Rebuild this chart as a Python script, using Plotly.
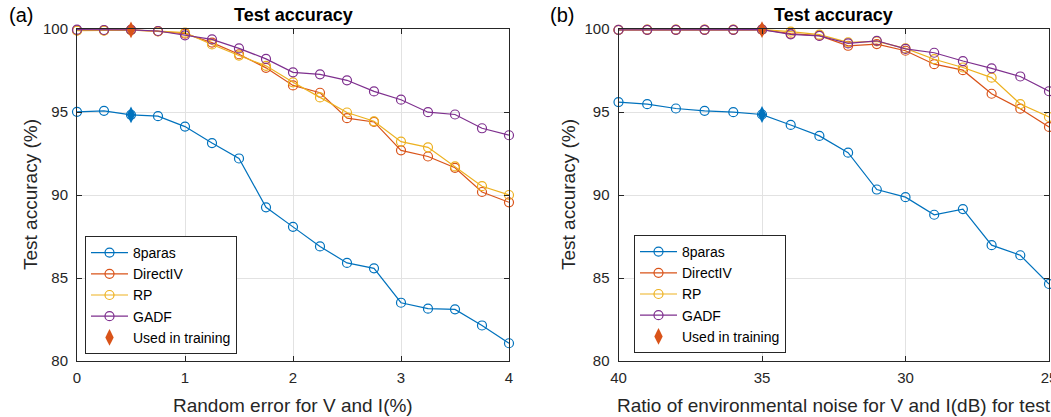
import plotly.graph_objects as go

# ---------------- data ----------------
series_names = ["8paras", "DirectIV", "RP", "GADF"]

err_x = [0, 0.25, 0.5, 0.75, 1, 1.25, 1.5, 1.75, 2, 2.25, 2.5, 2.75, 3, 3.25, 3.5, 3.75, 4]
acc_a_8paras = [95.01, 95.07, 94.83, 94.75, 94.12, 93.13, 92.2, 89.26, 88.08, 86.9, 85.91, 85.58, 83.51, 83.15, 83.11, 82.14, 81.07]
acc_a_direct = [99.92, 99.92, 99.95, 99.86, 99.72, 99.18, 98.48, 97.66, 96.6, 96.16, 94.63, 94.4, 92.69, 92.32, 91.64, 90.18, 89.56]
acc_a_rp = [99.9, 99.9, 99.93, 99.87, 99.78, 99.07, 98.4, 97.78, 96.79, 95.88, 94.97, 94.44, 93.21, 92.87, 91.72, 90.53, 90.0]
acc_a_gadf = [99.96, 99.94, 99.95, 99.88, 99.62, 99.37, 98.83, 98.2, 97.39, 97.27, 96.91, 96.24, 95.74, 94.99, 94.85, 94.02, 93.6]
train_a_x = 0.5

snr_x = [40, 39, 38, 37, 36, 35, 34, 33, 32, 31, 30, 29, 28, 27, 26, 25]
acc_b_8paras = [95.6, 95.47, 95.21, 95.07, 94.99, 94.85, 94.22, 93.56, 92.55, 90.33, 89.87, 88.81, 89.15, 86.98, 86.37, 84.64]
acc_b_direct = [99.94, 99.95, 99.95, 99.95, 99.95, 99.96, 99.72, 99.6, 98.99, 99.09, 98.69, 97.88, 97.52, 96.1, 95.2, 94.1]
acc_b_rp = [99.95, 99.96, 99.96, 99.96, 99.96, 99.96, 99.84, 99.66, 99.19, 99.25, 98.83, 98.18, 97.68, 97.07, 95.48, 94.7]
acc_b_gadf = [99.95, 99.95, 99.95, 99.95, 99.95, 99.96, 99.68, 99.58, 99.13, 99.29, 98.8, 98.57, 98.07, 97.63, 97.14, 96.25]
train_b_x = 35

x_ticks_a = [0, 1, 2, 3, 4]
x_ticks_b = [40, 35, 30, 25]
y_ticks = [80, 85, 90, 95, 100]

colors = ["#0072BD", "#D95319", "#EDB120", "#7E2F8E"]
FONT = "Liberation Sans, Arial, sans-serif"
AX = "#262626"
W, H = 1051, 417

fig = go.Figure()

panels = [
    ("x", "y", "legend", err_x, [acc_a_8paras, acc_a_direct, acc_a_rp, acc_a_gadf], train_a_x),
    ("x2", "y2", "legend2", snr_x, [acc_b_8paras, acc_b_direct, acc_b_rp, acc_b_gadf], train_b_x),
]

for xa, ya, lg, xs, ys_list, tx in panels:
    for name, ys, col in zip(series_names, ys_list, colors):
        fig.add_trace(go.Scatter(
            x=xs, y=ys, name=name, mode="lines+markers",
            line=dict(color=col, width=1.2),
            marker=dict(symbol="circle-open", size=9, color=col, line=dict(width=1.2)),
            cliponaxis=False, xaxis=xa, yaxis=ya, legend=lg,
        ))
    idx = xs.index(tx)
    fig.add_trace(go.Scatter(
        x=[tx], y=[ys_list[0][idx]], mode="markers", showlegend=False,
        marker=dict(symbol="diamond-tall", size=12, color=colors[0]),
        cliponaxis=False, xaxis=xa, yaxis=ya, legend=lg,
    ))
    fig.add_trace(go.Scatter(
        x=[tx], y=[ys_list[1][idx]], mode="markers", name="Used in training",
        marker=dict(symbol="diamond-tall", size=12, color=colors[1]),
        cliponaxis=False, xaxis=xa, yaxis=ya, legend=lg,
    ))

common_ax = dict(
    showline=True, linecolor=AX, linewidth=1, mirror="ticks",
    ticks="inside", ticklen=5, tickcolor=AX, tickwidth=1,
    showgrid=True, gridcolor="#e2e2e2", gridwidth=1, zeroline=False,
    tickfont=dict(family=FONT, size=15, color=AX),
    automargin=False, ticklabeloverflow="allow",
)

fig.update_layout(
    width=W, height=H,
    margin=dict(l=0, r=0, t=0, b=0, autoexpand=False),
    paper_bgcolor="white", plot_bgcolor="white",
    font=dict(family=FONT, color=AX),
    xaxis=dict(domain=[77 / W, 509 / W], range=[0, 4], tickvals=x_ticks_a, anchor="y",
               ticklabelstandoff=3, **common_ax),
    yaxis=dict(domain=[1 - 361 / H, 1 - 29 / H], range=[80, 100], tickvals=y_ticks, anchor="x",
               ticklabelstandoff=5, **common_ax),
    xaxis2=dict(domain=[618.5 / W, 1049 / W], range=[40, 25], tickvals=x_ticks_b, anchor="y2",
                ticklabelstandoff=3, **common_ax),
    yaxis2=dict(domain=[1 - 361 / H, 1 - 29 / H], range=[80, 100], tickvals=y_ticks, anchor="x2",
                ticklabelstandoff=5, **common_ax),
    legend=dict(x=85 / W, y=1 - 236 / H, xanchor="left", yanchor="top",
                bgcolor="white", bordercolor=AX, borderwidth=1,
                font=dict(family=FONT, size=14, color="black"), itemwidth=37,
                tracegroupgap=0),
    legend2=dict(x=634 / W, y=1 - 235 / H, xanchor="left", yanchor="top",
                 bgcolor="white", bordercolor=AX, borderwidth=1,
                 font=dict(family=FONT, size=14, color="black"), itemwidth=37,
                 tracegroupgap=0),
)

ann = []
def A(text, x, y, size, bold=False, angle=0, xanchor="center", yanchor="middle", color="black"):
    ann.append(dict(text=("<b>%s</b>" % text) if bold else text, x=x / W, y=1 - y / H,
                    xref="paper", yref="paper", showarrow=False, textangle=angle,
                    xanchor=xanchor, yanchor=yanchor,
                    font=dict(family=FONT, size=size, color=color)))

A("Test accuracy", 293, 15, 18, bold=True)
A("Test accuracy", 833.5, 15, 18, bold=True)
A("(a)", 7, 15, 20, xanchor="left")
A("(b)", 548, 15, 20, xanchor="left")
A("Random error for V and I(%)", 293, 405, 19, color=AX)
A("Ratio of environmental noise for V and I(dB) for test", 833.5, 405, 19, color=AX)
A("Test accuracy (%)", 30, 195, 19, angle=-90, color=AX)
A("Test accuracy (%)", 568, 195, 19, angle=-90, color=AX)
fig.update_layout(annotations=ann)

fig.write_html("out.html")
